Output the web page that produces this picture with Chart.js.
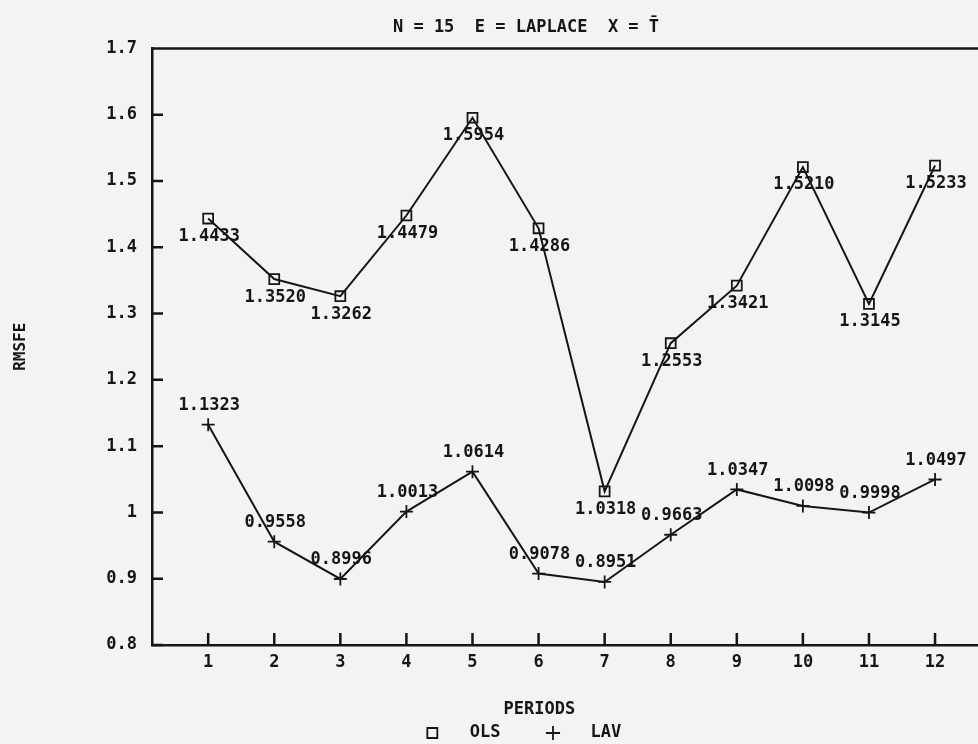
<!DOCTYPE html>
<html>
<head>
<meta charset="utf-8">
<script src="https://cdn.jsdelivr.net/npm/chart.js@4/dist/chart.umd.min.js"></script>
<style>
  html, body { margin: 0; padding: 0; background: #f3f3f1; }
  canvas { display: block; }
</style>
</head>
<body>
<canvas id="chart" width="978" height="744"></canvas>
<script>
// values as printed next to each point
const periods = [1, 2, 3, 4, 5, 6, 7, 8, 9, 10, 11, 12];
const olsValues = [1.4433, 1.3520, 1.3262, 1.4479, 1.5954, 1.4286, 1.0318, 1.2553, 1.3421, 1.5210, 1.3145, 1.5233];
const lavValues = [1.1323, 0.9558, 0.8996, 1.0013, 1.0614, 0.9078, 0.8951, 0.9663, 1.0347, 1.0098, 0.9998, 1.0497];
const yTicks = [0.8, 0.9, 1, 1.1, 1.2, 1.3, 1.4, 1.5, 1.6, 1.7];

const ink = '#161616';
const mono = '"DejaVu Sans Mono", monospace';
const legendPad = 44;
// OLS numbers sit under the squares, LAV numbers above the crosses
const labelShift = [18, -19];

const toPoints = vals => periods.map((p, i) => ({ x: p, y: vals[i] }));

const plotterFrame = {
  id: 'plotterFrame',
  afterLayout(chart) {
    // the plotter centred the title and legend a bit right of the page centre
    chart.titleBlock.left = 74;
    chart.legend.left = 67;
    chart.legend.top = 733 - 8.5 - legendPad;
  },
  afterDatasetsDraw(chart) {
    const ctx = chart.ctx;
    ctx.save();
    ctx.font = 'bold 17px ' + mono;
    ctx.fillStyle = ink;
    ctx.textAlign = 'center';
    ctx.textBaseline = 'middle';
    chart.data.datasets.forEach((ds, i) => {
      const meta = chart.getDatasetMeta(i);
      meta.data.forEach((pt, j) => {
        ctx.fillText(ds.data[j].y.toFixed(4), pt.x + 1, pt.y + labelShift[i]);
      });
    });
    ctx.restore();
  },
  afterDraw(chart) {
    const { ctx, chartArea: a, scales: { x, y } } = chart;
    ctx.save();
    ctx.strokeStyle = ink;
    ctx.lineWidth = 2.5;
    ctx.beginPath();
    ctx.moveTo(a.left, a.top);
    ctx.lineTo(a.right, a.top);
    // tick marks point into the plot
    x.ticks.forEach(t => {
      const px = x.getPixelForValue(t.value);
      ctx.moveTo(px, a.bottom);
      ctx.lineTo(px, a.bottom - 12);
    });
    y.ticks.forEach(t => {
      const py = y.getPixelForValue(t.value);
      ctx.moveTo(a.left, py);
      ctx.lineTo(a.left + 11, py);
    });
    ctx.stroke();
    ctx.restore();
  }
};

new Chart(document.getElementById('chart'), {
  type: 'line',
  data: {
    datasets: [
      {
        label: 'OLS',
        data: toPoints(olsValues),
        borderColor: ink,
        backgroundColor: 'transparent',
        borderWidth: 2,
        tension: 0,
        pointStyle: 'rect',
        pointRadius: 7,
        pointBorderWidth: 1.8,
        pointBackgroundColor: 'transparent',
        pointBorderColor: ink
      },
      {
        label: 'LAV',
        data: toPoints(lavValues),
        borderColor: ink,
        backgroundColor: 'transparent',
        borderWidth: 2,
        tension: 0,
        pointStyle: 'cross',
        pointRadius: 6.5,
        pointBorderWidth: 1.8,
        pointBorderColor: ink
      }
    ]
  },
  options: {
    responsive: false,
    animation: false,
    layout: { padding: 0, autoPadding: false },
    plugins: {
      tooltip: { enabled: false },
      title: {
        display: true,
        text: 'N = 15  E = LAPLACE  X = T\u0304',
        color: ink,
        font: { family: mono, size: 17, weight: 'bold' },
        padding: { top: 17, bottom: 11 }
      },
      legend: {
        position: 'bottom',
        maxHeight: 22,
        labels: {
          usePointStyle: true,
          boxHeight: 10,
          padding: legendPad,
          color: ink,
          font: { family: mono, size: 17, weight: 'bold' },
          generateLabels: chart => Chart.defaults.plugins.legend.labels.generateLabels(chart)
            .map(item => ({ ...item, text: '\u2002\u2002' + item.text }))
        }
      }
    },
    scales: {
      x: {
        type: 'linear',
        min: 0.15,
        max: 12.65,
        afterBuildTicks: scale => { scale.ticks = periods.map(v => ({ value: v })); },
        afterFit: scale => {
          scale.height = 77;
          scale.paddingLeft = 0;
          scale.paddingRight = 0;
        },
        grid: { display: false, drawTicks: false },
        border: { display: true, color: ink, width: 2.5 },
        ticks: {
          color: ink,
          padding: 7,
          font: { family: mono, size: 17, weight: 'bold' }
        },
        title: {
          display: true,
          // trailing blanks pull the word left, as on the plot
          text: 'PERIODS     ',
          color: ink,
          font: { family: mono, size: 17, weight: 'bold' },
          padding: { top: 0, bottom: 2 }
        }
      },
      y: {
        min: 0.8,
        max: 1.7,
        afterBuildTicks: scale => { scale.ticks = yTicks.map(v => ({ value: v })); },
        afterFit: scale => { scale.width = 152; },
        grid: { display: false, drawTicks: false },
        border: { display: true, color: ink, width: 2.5 },
        ticks: {
          color: ink,
          padding: 15,
          font: { family: mono, size: 17, weight: 'bold' },
          callback: v => String(v)
        },
        title: {
          display: true,
          text: 'RMSFE',
          color: ink,
          font: { family: mono, size: 16, weight: 'bold' },
          padding: { top: 11, bottom: 0 }
        }
      }
    }
  },
  plugins: [plotterFrame]
});
</script>
</body>
</html>
